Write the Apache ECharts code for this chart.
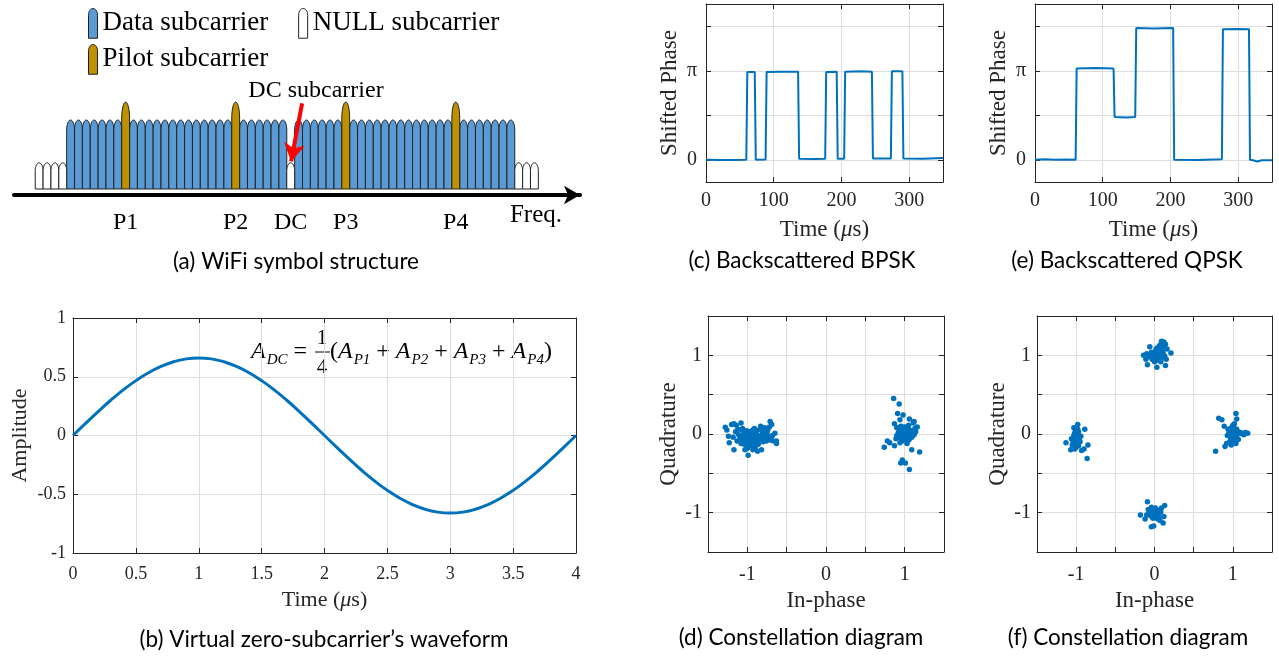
<!DOCTYPE html>
<html>
<head>
<meta charset="utf-8">
<script src="https://cdn.jsdelivr.net/npm/echarts@6/dist/echarts.min.js"></script>
<style>
  html, body { margin: 0; padding: 0; background: #fff; }
  #chart { width: 1279px; height: 656px; }
</style>
</head>
<body>
<div id="chart"></div>
<script>
// ---- (a) subcarrier layout: index -> kind
var dataIdx = [-28, -27, -26, -25, -24, -23, -22, -20, -19, -18, -17, -16, -15, -14, -13, -12, -11, -10, -9, -8,
  -6, -5, -4, -3, -2, -1, 1, 2, 3, 4, 5, 6, 8, 9, 10, 11, 12, 13, 14, 15, 16, 17, 18, 19, 20, 22, 23, 24, 25, 26, 27, 28];
var pilotIdx = [-21, -7, 7, 21];
var nullIdx = [-32, -31, -30, -29, 0, 29, 30, 31];
var dataHeight = 1.0, pilotHeight = 1.26, nullHeight = 0.38;
var subLabels = { '-21': 'P1', '-7': 'P2', '0': 'DC', '7': 'P3', '21': 'P4' };

// ---- (b) virtual zero-subcarrier waveform
var waveTime = [0, 0.1, 0.2, 0.3, 0.4, 0.5, 0.6, 0.7, 0.8, 0.9, 1.0, 1.1, 1.2, 1.3, 1.4, 1.5, 1.6, 1.7, 1.8, 1.9, 2.0,
  2.1, 2.2, 2.3, 2.4, 2.5, 2.6, 2.7, 2.8, 2.9, 3.0, 3.1, 3.2, 3.3, 3.4, 3.5, 3.6, 3.7, 3.8, 3.9, 4.0];
var waveAmp = [0, 0.103, 0.204, 0.300, 0.388, 0.467, 0.534, 0.588, 0.628, 0.652, 0.660, 0.652, 0.628, 0.588, 0.534, 0.467, 0.388, 0.300, 0.204, 0.103, 0,
  -0.103, -0.204, -0.300, -0.388, -0.467, -0.534, -0.588, -0.628, -0.652, -0.660, -0.652, -0.628, -0.588, -0.534, -0.467, -0.388, -0.300, -0.204, -0.103, 0];

// ---- (c) BPSK phase (in units of pi)
var bpskTime = [0, 20, 40, 59.5, 61, 72, 73.5, 88, 89.5, 110, 136, 137.5, 160, 176, 177.5, 193, 194.5, 204, 205.5, 230, 245, 246.5, 273, 274.5, 290, 291.5, 320, 350];
var bpskPhase = [0, -0.003, -0.002, 0, 0.985, 0.985, 0, 0.003, 0.985, 0.99, 0.99, 0.01, 0.008, 0.01, 0.985, 0.99, 0.01, 0.01, 0.99, 0.993, 0.99, 0.015, 0.015, 0.995, 0.995, 0.015, 0.01, 0.02];

// ---- (e) QPSK phase (in units of pi)
var qpskTime = [0, 15, 30, 45, 60, 61.5, 90, 116, 117.5, 135, 148, 149.5, 175, 204, 205.5, 240, 276, 277.5, 300, 316, 317.5, 322, 328, 335, 350];
var qpskPhase = [0, 0.005, 0, 0.002, 0, 1.025, 1.03, 1.025, 0.48, 0.475, 0.48, 1.48, 1.475, 1.48, 0, -0.003, 0.005, 1.465, 1.47, 1.465, 0, -0.005, -0.02, -0.005, -0.005];

// ---- (d) BPSK constellation [I, Q]
var bpskLeft = [[-1.00, -0.05], [-0.97, -0.02], [-0.94, -0.07], [-0.91, -0.04], [-0.88, -0.09], [-1.03, -0.08], [-1.06, -0.03], [-0.99, 0.00],
  [-0.95, 0.02], [-0.92, -0.12], [-0.85, -0.05], [-0.82, -0.01], [-0.79, 0.03], [-0.84, 0.06], [-0.77, -0.06], [-0.75, 0.01], [-1.09, -0.06],
  [-1.11, -0.01], [-1.04, -0.13], [-0.98, -0.15], [-0.96, -0.10], [-1.01, 0.04], [-0.89, 0.01], [-0.86, -0.13], [-0.80, -0.10], [-0.73, -0.03],
  [-0.70, -0.06], [-0.68, -0.02], [-1.13, -0.09], [-1.07, 0.05], [-0.93, 0.05], [-1.00, -0.18], [-0.90, -0.17], [-0.83, 0.10], [-0.78, 0.08],
  [-0.74, 0.05], [-1.15, 0.03], [-1.18, -0.04], [-1.28, 0.085], [-1.26, 0.05], [-1.24, -0.03], [-1.23, -0.11], [-1.17, -0.20], [-1.17, 0.13],
  [-1.14, 0.11], [-1.08, 0.14], [-1.06, 0.07], [-0.99, -0.27], [-1.03, -0.20], [-0.93, -0.20], [-0.82, -0.20], [-0.71, 0.16], [-0.72, 0.09],
  [-0.65, 0.01], [-0.63, -0.09], [-0.63, -0.12], [-0.68, -0.085], [-0.80, 0.03], [-0.76, 0.06], [-1.20, 0.12], [-0.69, 0.12], [-0.87, -0.22],
  [-1.02, -0.04], [-0.98, -0.08], [-0.95, -0.04], [-0.92, -0.01], [-0.90, -0.07], [-0.87, -0.03], [-1.05, -0.10], [-1.08, -0.12], [-1.01, -0.11],
  [-0.96, -0.13], [-0.93, -0.09], [-0.88, 0.04], [-0.86, -0.08], [-0.83, -0.06], [-0.81, 0.05], [-0.78, 0.00], [-0.76, -0.09], [-1.10, -0.02],
  [-1.12, 0.06], [-1.04, 0.01], [-0.97, 0.03], [-0.94, -0.15], [-0.91, 0.07], [-0.79, -0.04], [-0.74, -0.08]];
var bpskRight = [[1.00, 0.00], [0.98, 0.02], [1.02, -0.01], [0.96, -0.03], [1.04, 0.03], [0.99, 0.05], [1.01, -0.05], [0.95, 0.01], [1.05, -0.02],
  [0.97, 0.07], [1.03, 0.06], [0.93, -0.04], [1.07, 0.01], [0.98, -0.07], [1.02, 0.09], [0.94, 0.05], [1.06, -0.06], [1.00, 0.03], [0.99, -0.02],
  [1.01, 0.01], [0.96, 0.04], [1.04, -0.04], [0.92, 0.02], [1.08, 0.04], [0.97, -0.09], [1.03, -0.08], [1.10, 0.02], [1.12, -0.01], [0.90, -0.02],
  [0.95, 0.10], [1.05, 0.11], [1.09, -0.04], [1.14, 0.03], [1.13, 0.07], [0.91, 0.08], [0.86, 0.45], [0.93, 0.38], [0.91, 0.26], [0.98, 0.24],
  [0.94, 0.18], [1.06, 0.19], [1.11, 0.14], [1.16, 0.09], [0.87, 0.13], [0.90, 0.08], [0.78, -0.09], [0.81, -0.11], [0.74, -0.17], [0.87, -0.15],
  [1.09, -0.20], [1.19, -0.23], [0.97, -0.33], [0.95, -0.37], [1.01, -0.37], [1.06, -0.45], [0.94, -0.11], [1.03, -0.12], [1.12, 0.16], [0.89, -0.06],
  [1.00, -0.03], [0.99, 0.01], [1.01, 0.04], [0.97, 0.00], [1.03, -0.03], [1.02, 0.02], [0.98, -0.04], [1.00, 0.06], [1.04, 0.07], [0.96, -0.06],
  [1.06, 0.05], [0.94, 0.00], [1.05, -0.08], [0.99, 0.09]];

// ---- (f) QPSK constellation [I, Q]
var qpskTop = [[0.03, 1.01], [0.00, 0.99], [0.06, 1.04], [0.08, 1.07], [0.10, 1.10], [0.05, 0.97], [-0.02, 1.02], [0.01, 1.05], [0.07, 1.00],
  [0.11, 1.03], [-0.05, 0.98], [0.04, 0.94], [0.09, 0.96], [0.12, 1.12], [0.14, 1.14], [-0.07, 1.00], [0.02, 1.08], [0.06, 1.12], [-0.03, 0.95],
  [0.13, 0.99], [0.15, 0.95], [-0.10, 1.02], [0.00, 0.92], [0.08, 0.92], [0.09, 1.18], [0.12, 1.17], [-0.06, 1.11], [-0.14, 1.00], [0.21, 1.03],
  [-0.09, 0.88], [0.03, 0.85], [0.14, 0.87], [0.16, 1.08], [-0.11, 0.95], [0.04, 1.03], [0.05, 1.06], [0.02, 0.98], [0.07, 1.02], [0.10, 1.05],
  [0.03, 1.09], [0.08, 1.14], [0.01, 1.00], [-0.04, 1.04], [0.11, 0.99]];
var qpskLeft = [[-1.00, -0.05], [-0.98, 0.00], [-1.02, -0.08], [-0.99, -0.12], [-1.01, 0.04], [-0.97, -0.15], [-1.03, -0.02], [-0.96, -0.06],
  [-1.04, -0.10], [-0.98, 0.06], [-1.00, -0.17], [-0.95, -0.10], [-1.05, -0.14], [-0.97, 0.03], [-1.02, -0.19], [-0.94, -0.03], [-1.06, -0.06],
  [-0.99, -0.09], [-0.98, 0.12], [-0.89, 0.06], [-1.13, -0.11], [-0.85, -0.14], [-0.90, -0.19], [-0.86, -0.31], [-1.07, -0.20], [-1.03, 0.08], [-0.93, -0.21],
  [-1.00, -0.02], [-0.99, -0.07], [-1.01, -0.11], [-0.98, -0.04], [-1.02, 0.01], [-0.97, -0.09], [-1.03, -0.16], [-1.00, 0.08]];
var qpskRight = [[1.00, 0.00], [0.98, 0.03], [1.02, -0.02], [0.97, -0.05], [1.03, 0.05], [1.01, 0.08], [0.99, -0.09], [1.05, -0.04], [0.95, 0.02],
  [1.06, 0.03], [0.96, -0.10], [1.04, -0.12], [1.00, 0.11], [0.93, -0.02], [1.08, 0.01], [1.10, 0.02], [0.98, -0.14], [1.02, 0.13], [0.94, 0.06],
  [1.07, -0.07], [0.82, 0.20], [0.86, 0.18], [1.04, 0.26], [1.05, 0.19], [0.89, 0.10], [0.78, -0.22], [0.90, -0.16], [1.19, 0.01], [1.14, -0.01],
  [1.16, 0.02], [1.12, 0.00], [0.92, -0.12], [1.01, 0.03], [0.99, -0.02], [1.03, -0.06], [0.97, 0.04], [1.02, 0.07], [1.05, 0.06], [1.00, -0.06], [0.98, 0.08]];
var qpskBottom = [[0.00, -1.00], [-0.03, -0.98], [0.03, -1.02], [-0.05, -1.04], [0.05, -0.97], [0.01, -0.94], [-0.02, -1.07], [0.06, -1.05],
  [-0.07, -1.00], [0.08, -0.99], [-0.04, -0.93], [0.04, -1.08], [-0.08, -0.96], [0.09, -0.94], [0.02, -1.03], [-0.01, -0.99], [-0.10, -1.03],
  [0.07, -1.10], [-0.09, -0.86], [-0.18, -1.03], [0.13, -0.91], [0.11, -1.13], [-0.04, -1.18], [-0.01, -1.17], [0.12, -1.05], [-0.12, -1.08],
  [0.01, -1.01], [-0.02, -1.02], [0.04, -0.99], [0.00, -0.96], [-0.05, -0.99], [0.05, -1.03], [0.02, -1.06], [-0.03, -1.05]];

var serif = '"Liberation Serif", "Times New Roman", serif';
var sans = 'Lato, "Open Sans", sans-serif';
var ink = '#262626';
var gridInk = '#dedede';
var blue = '#0072BD';

function zip(a, b) {
  return a.map(function (v, i) { return [v, b[i]]; });
}

// bullet shaped subcarrier
function bullet(capPx) {
  return function (params, api) {
    var k = api.value(0), h = api.value(1);
    var b = api.coord([k, 0]), t = api.coord([k, h]);
    var w = api.size([1, 0])[0];
    var l = b[0] - w / 2, r = b[0] + w / 2, c = b[0];
    var ys = t[1] + capPx;
    var pts = [[l, b[1]], [l, ys]];
    for (var i = 1; i < 16; i++) {
      var a = Math.PI - Math.PI * i / 16;
      pts.push([c + Math.cos(a) * w / 2, ys - Math.sin(a) * capPx]);
    }
    pts.push([r, ys], [r, b[1]]);
    return { type: 'polygon', shape: { points: pts }, style: api.style() };
  };
}

var xAxes = [], yAxes = [];

function addAxes(list, gi, dim, o) {
  var pos = dim === 'x' ? ['bottom', 'top'] : ['left', 'right'];
  for (var m = 0; m < 2; m++) {
    var ax = {
      gridIndex: gi, type: 'value', position: pos[m],
      min: o.min, max: o.max, interval: o.interval,
      axisLine: { show: true, onZero: false, lineStyle: { color: ink, width: 1 } },
      axisTick: { show: true, inside: true, length: 5, lineStyle: { color: ink } },
      splitLine: { show: m === 0, lineStyle: { color: gridInk, width: 1 } },
      axisLabel: { show: false }
    };
    if (o.tickValues) ax.axisTick.customValues = o.tickValues;
    if (m === 0) {
      ax.axisLabel = { show: true, color: ink, fontFamily: serif, fontSize: o.fs, margin: o.margin, hideOverlap: false };
      if (o.labelValues) ax.axisLabel.customValues = o.labelValues;
      if (o.formatter) ax.axisLabel.formatter = o.formatter;
      ax.name = o.name;
      ax.nameLocation = 'middle';
      ax.nameGap = o.nameGap;
      ax.nameTextStyle = {
        color: ink, fontFamily: serif, fontSize: o.nfs,
        rich: { i: { color: ink, fontFamily: serif, fontSize: o.nfs, fontStyle: 'italic' } }
      };
    }
    list.push(ax);
  }
  return list.length - 2;
}

var timeName = 'Time ({i|\u03bc}s)';
var phaseFmt = function (v) { return v === 0 ? '0' : '\u03c0'; };
var intFmt = function (v) { return Math.abs(v - Math.round(v)) < 1e-6 ? String(Math.round(v)) : ''; };

// (a)
xAxes.push({
  gridIndex: 0, type: 'value', min: -35.2, max: 36.8,
  axisLine: { show: true, onZero: false, symbol: ['none', 'arrow'], symbolSize: [14, 16], lineStyle: { color: '#000', width: 4 } },
  axisTick: { show: false }, splitLine: { show: false },
  axisLabel: {
    show: true, customValues: [-21, -7, 0, 7, 21], margin: 16,
    color: '#000', fontFamily: serif, fontSize: 24,
    formatter: function (v) { return subLabels[String(v)] || ''; }
  }
});
yAxes.push({ gridIndex: 0, type: 'value', min: -0.087, max: 1.435, show: false });

// (b)
var bx = addAxes(xAxes, 1, 'x', { min: 0, max: 4, interval: 0.5, fs: 18, nfs: 22, margin: 12, name: timeName, nameGap: 36 });
var by = addAxes(yAxes, 1, 'y', { min: -1, max: 1, interval: 0.5, fs: 18, nfs: 22, margin: 7, name: 'Amplitude', nameGap: 42 });
// (c)
var cx = addAxes(xAxes, 2, 'x', { min: 0, max: 350, interval: 100, labelValues: [0, 100, 200, 300], fs: 20, nfs: 23, margin: 9, name: timeName, nameGap: 36 });
var cy = addAxes(yAxes, 2, 'y', { min: -0.25, max: 1.75, tickValues: [0, 0.5, 1, 1.5], labelValues: [0, 1], formatter: phaseFmt, fs: 20, nfs: 23, margin: 9, name: 'Shifted Phase', nameGap: 25 });
// (e)
var ex = addAxes(xAxes, 3, 'x', { min: 0, max: 350, interval: 100, labelValues: [0, 100, 200, 300], fs: 20, nfs: 23, margin: 9, name: timeName, nameGap: 36 });
var ey = addAxes(yAxes, 3, 'y', { min: -0.25, max: 1.75, tickValues: [0, 0.5, 1, 1.5], labelValues: [0, 1], formatter: phaseFmt, fs: 20, nfs: 23, margin: 9, name: 'Shifted Phase', nameGap: 25 });
// (d)
var dx = addAxes(xAxes, 4, 'x', { min: -1.5, max: 1.5, interval: 0.5, formatter: intFmt, fs: 20, nfs: 23, margin: 13, name: 'In-phase', nameGap: 37 });
var dy = addAxes(yAxes, 4, 'y', { min: -1.5, max: 1.5, interval: 0.5, formatter: intFmt, fs: 20, nfs: 23, margin: 6, name: 'Quadrature', nameGap: 28 });
// (f)
var fx = addAxes(xAxes, 5, 'x', { min: -1.5, max: 1.5, interval: 0.5, formatter: intFmt, fs: 20, nfs: 23, margin: 13, name: 'In-phase', nameGap: 37 });
var fy = addAxes(yAxes, 5, 'y', { min: -1.5, max: 1.5, interval: 0.5, formatter: intFmt, fs: 20, nfs: 23, margin: 6, name: 'Quadrature', nameGap: 28 });

function heightRows(idx, h) { return idx.map(function (k) { return [k, h]; }); }

function scatter(xi, yi, pts) {
  return {
    type: 'scatter', xAxisIndex: xi, yAxisIndex: yi, data: pts,
    symbolSize: 5.5, itemStyle: { color: blue, opacity: 1 }, silent: true
  };
}

var capStyle = function (t) {
  return {
    fill: '#000', font: '22.5px ' + sans, textAlign: 'center', textVerticalAlign: 'middle', text: t
  };
};

var eqRich = {
  a: { fontFamily: serif, fontSize: 24, fontStyle: 'italic', lineHeight: 32, verticalAlign: 'middle', fill: '#000' },
  s: { fontFamily: serif, fontSize: 15, fontStyle: 'italic', lineHeight: 17, verticalAlign: 'bottom', fill: '#000', padding: [0, 0, 0, 1] },
  o: { fontFamily: serif, fontSize: 24, lineHeight: 32, verticalAlign: 'middle', fill: '#000', padding: [0, 6, 0, 6] }
};

var legendIcon = 'path://M0,30 L0,7 C0,-2 9,-2 9,7 L9,30 Z';

var option = {
  animation: false,
  backgroundColor: '#fff',
  textStyle: { fontFamily: serif },
  grid: [
    { left: 14, top: 90, width: 566, height: 105 },
    { left: 73, top: 318, width: 503, height: 235 },
    { left: 706, top: 4, width: 237, height: 178 },
    { left: 1035, top: 4, width: 237, height: 178 },
    { left: 708, top: 316, width: 236, height: 236 },
    { left: 1037, top: 316, width: 235, height: 236 }
  ],
  legend: [
    {
      data: ['Data subcarrier', 'NULL subcarrier'], left: 83, top: 3, itemWidth: 9, itemHeight: 30, itemGap: 30,
      icon: legendIcon, itemStyle: { borderColor: '#222', borderWidth: 1 },
      textStyle: { color: '#000', fontFamily: serif, fontSize: 27 }, selectedMode: false
    },
    {
      data: ['Pilot subcarrier'], left: 83, top: 39, itemWidth: 9, itemHeight: 30,
      icon: legendIcon, itemStyle: { borderColor: '#222', borderWidth: 1 },
      textStyle: { color: '#000', fontFamily: serif, fontSize: 27 }, selectedMode: false
    }
  ],
  xAxis: xAxes,
  yAxis: yAxes,
  series: [
    {
      name: 'Data subcarrier', type: 'custom', xAxisIndex: 0, yAxisIndex: 0,
      renderItem: bullet(10), data: heightRows(dataIdx, dataHeight), encode: { x: 0, y: 1 },
      itemStyle: { color: '#5B9BD5', borderColor: '#222', borderWidth: 1 }, silent: true
    },
    {
      name: 'Pilot subcarrier', type: 'custom', xAxisIndex: 0, yAxisIndex: 0,
      renderItem: bullet(16), data: heightRows(pilotIdx, pilotHeight), encode: { x: 0, y: 1 },
      itemStyle: { color: '#BF9000', borderColor: '#222', borderWidth: 1 }, silent: true
    },
    {
      name: 'NULL subcarrier', type: 'custom', xAxisIndex: 0, yAxisIndex: 0,
      renderItem: bullet(8), data: heightRows(nullIdx, nullHeight), encode: { x: 0, y: 1 },
      itemStyle: { color: '#fff', borderColor: '#222', borderWidth: 1 }, silent: true,
      markLine: {
        silent: true, symbol: ['none', 'arrow'], symbolSize: [16, 18],
        lineStyle: { color: '#ff0000', width: 4, type: 'solid' }, label: { show: false },
        data: [[{ coord: [1.45, 1.24] }, { coord: [0.05, 0.40] }]]
      }
    },
    {
      type: 'line', xAxisIndex: bx, yAxisIndex: by, data: zip(waveTime, waveAmp), smooth: true,
      showSymbol: false, lineStyle: { color: blue, width: 3 }, silent: true
    },
    {
      type: 'line', xAxisIndex: cx, yAxisIndex: cy, data: zip(bpskTime, bpskPhase),
      showSymbol: false, lineStyle: { color: blue, width: 2 }, silent: true
    },
    {
      type: 'line', xAxisIndex: ex, yAxisIndex: ey, data: zip(qpskTime, qpskPhase),
      showSymbol: false, lineStyle: { color: blue, width: 2 }, silent: true
    },
    scatter(dx, dy, bpskLeft),
    scatter(dx, dy, bpskRight),
    scatter(fx, fy, qpskTop),
    scatter(fx, fy, qpskLeft),
    scatter(fx, fy, qpskRight),
    scatter(fx, fy, qpskBottom)
  ],
  graphic: [
    { type: 'text', x: 316, y: 91, style: { text: 'DC subcarrier', fill: '#000', font: '24px ' + serif, textAlign: 'center', textVerticalAlign: 'middle' } },
    { type: 'text', x: 536, y: 215, style: { text: 'Freq.', fill: '#000', font: '25px ' + serif, textAlign: 'center', textVerticalAlign: 'middle' } },
    { type: 'text', x: 296, y: 262, style: capStyle('(a) WiFi symbol structure') },
    { type: 'text', x: 324, y: 640, style: capStyle('(b) Virtual zero-subcarrier\u2019s waveform') },
    { type: 'text', x: 802, y: 261, style: capStyle('(c) Backscattered BPSK') },
    { type: 'text', x: 1127, y: 261, style: capStyle('(e) Backscattered QPSK') },
    { type: 'text', x: 801, y: 638, style: capStyle('(d) Constellation diagram') },
    { type: 'text', x: 1128, y: 638, style: capStyle('(f) Constellation diagram') },
    // equation A_DC = 1/4 (A_P1 + A_P2 + A_P3 + A_P4)
    {
      type: 'text', x: 313, y: 352,
      style: {
        text: '{a|A}{s|DC}{o|=}', fill: '#000', fontFamily: serif, fontSize: 24, lineHeight: 32,
        textAlign: 'right', textVerticalAlign: 'middle', rich: eqRich
      }
    },
    { type: 'text', x: 322, y: 338, style: { text: '1', fill: '#000', font: '21px ' + serif, textAlign: 'center', textVerticalAlign: 'middle' } },
    { type: 'line', shape: { x1: 315, y1: 352, x2: 330, y2: 352 }, style: { stroke: '#000', lineWidth: 1 } },
    { type: 'text', x: 322, y: 367, style: { text: '4', fill: '#000', font: '21px ' + serif, textAlign: 'center', textVerticalAlign: 'middle' } },
    {
      type: 'text', x: 330, y: 352,
      style: {
        text: '({a|A}{s|P1}{o|+}{a|A}{s|P2}{o|+}{a|A}{s|P3}{o|+}{a|A}{s|P4})', fill: '#000', fontFamily: serif, fontSize: 24, lineHeight: 32,
        textAlign: 'left', textVerticalAlign: 'middle', rich: eqRich
      }
    }
  ]
};

var chart = echarts.init(document.getElementById('chart'), null, { renderer: 'canvas' });
chart.setOption(option);
</script>
</body>
</html>
